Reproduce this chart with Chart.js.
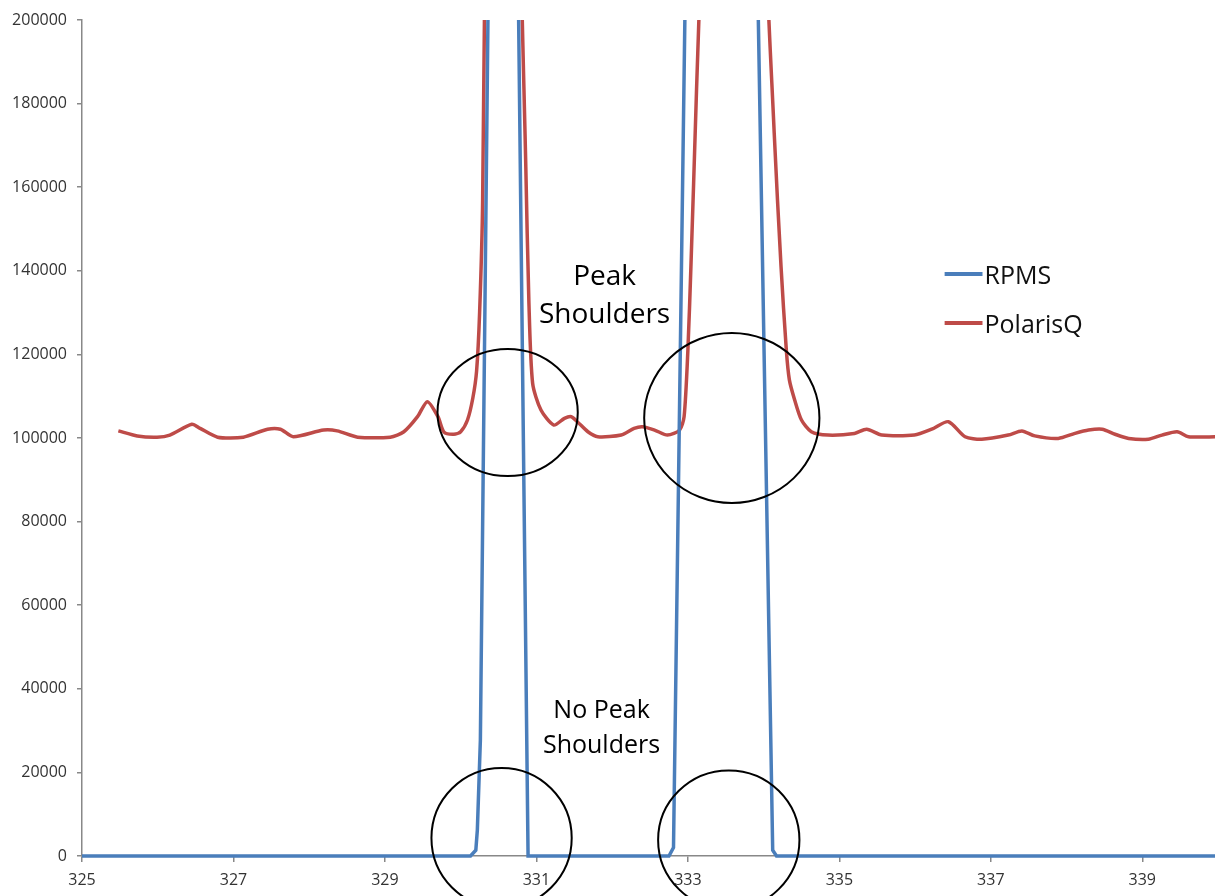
<!DOCTYPE html>
<html>
<head>
<meta charset="utf-8">
<script src="https://cdn.jsdelivr.net/npm/chart.js@4"></script>
<style>
  html, body { margin: 0; padding: 0; background: #fff; overflow: hidden; }
  #wrap { width: 1215px; height: 896px; }
</style>
</head>
<body>
<div id="wrap"><canvas id="chart" width="1215" height="896"></canvas></div>
<script>
// DATA (m/z vs counts; the peak tops run far off scale)
const rpmsMz = [325, 330.13, 330.20, 330.22, 330.26, 330.40, 330.55, 330.72, 330.89,
  332.75, 332.81, 333.00, 333.45, 333.88, 334.12, 334.17, 339.96];
const rpmsCounts = [0, 0, 1400, 6200, 27700, 268900, 3000000, 272700, 0,
  0, 2000, 252800, 3000000, 252600, 1400, 0, 0];

const polarisMz = [
  325.48, 325.73, 325.99, 326.16, 326.45, 326.56, 326.79, 327.13, 327.45, 327.62,
  327.79, 328.19, 328.37, 328.64, 329.07, 329.25, 329.43, 329.56, 329.70, 329.78,
  329.91, 330.00, 330.09, 330.16, 330.21, 330.25, 330.29, 330.35, 330.56, 330.78,
  330.86, 330.90, 330.95, 331.06, 331.23, 331.37, 331.46, 331.54, 331.68, 331.81,
  332.12, 332.29, 332.40, 332.56, 332.73, 332.89, 332.95, 333.00, 333.04, 333.11,
  333.18, 333.60, 334.02, 334.14, 334.23, 334.30, 334.34, 334.41, 334.50, 334.63,
  334.85, 335.20, 335.36, 335.56, 335.99, 336.22, 336.44, 336.66, 336.88, 337.23,
  337.41, 337.58, 337.89, 338.11, 338.29, 338.47, 338.64, 338.82, 339.08, 339.26,
  339.46, 339.61, 339.99];
const polarisCounts = [
  101700, 100500, 100200, 100700, 103300, 102300, 100200, 100200, 102100, 102100,
  100300, 101900, 101700, 100200, 100200, 101500, 105100, 108700, 105100, 101400,
  100900, 101500, 104300, 109500, 116000, 130000, 156900, 290000, 2500000, 235000,
  164900, 133000, 113100, 106700, 103100, 104700, 105100, 103900, 101500, 100300,
  100700, 102300, 102700, 101900, 100700, 101900, 105100, 121000, 141000, 180800,
  225600, 2500000, 227100, 172900, 141000, 121000, 113900, 109100, 104300, 101500,
  100700, 101100, 102100, 100700, 100700, 102100, 103900, 100300, 99700, 100700,
  101700, 100500, 99900, 101100, 101900, 102100, 100900, 99900, 99700, 100700,
  101500, 100300, 100300];

const xTickValues = [325, 327, 329, 331, 333, 335, 337, 339];

const seriesNames = ['RPMS', 'PolarisQ'];
const seriesColors = ['#4A7EBB', '#BE4B48'];

// annotations, in data units: [centre m/z, centre counts, radius m/z, radius counts]
const rings = [
  [330.62, 106100, 0.926, 15190],
  [333.58, 104780, 1.157, 20330],
  [330.54, 4300, 0.926, 16750],
  [333.54, 3830, 0.933, 16630]
];
const notes = [
  ['Peak', 331.90, 136600, 28],
  ['Shoulders', 331.90, 127500, 28],
  ['No Peak', 331.86, 33010, 25],
  ['Shoulders', 331.86, 24640, 25]
];

const toPoints = (xs, ys) => xs.map((x, i) => ({x: x, y: ys[i]}));

const FONT = "'Open Sans', 'DejaVu Sans', sans-serif";
Chart.defaults.font.family = FONT;

// circles, labels and the legend drawn on top of the plot
const overlay = {
  id: 'overlay',
  afterDraw(chart) {
    const ctx = chart.ctx;
    const sx = chart.scales.x, sy = chart.scales.y;
    ctx.save();
    ctx.strokeStyle = '#000';
    ctx.lineWidth = 2;
    rings.forEach(r => {
      const cx = sx.getPixelForValue(r[0]), cy = sy.getPixelForValue(r[1]);
      const rx = sx.getPixelForValue(r[0] + r[2]) - cx;
      const ry = cy - sy.getPixelForValue(r[1] + r[3]);
      ctx.beginPath();
      ctx.ellipse(cx, cy, rx, ry, 0, 0, Math.PI * 2);
      ctx.stroke();
    });
    ctx.fillStyle = '#000';
    ctx.textAlign = 'center';
    ctx.textBaseline = 'alphabetic';
    notes.forEach(n => {
      ctx.font = n[3] + 'px ' + FONT;
      ctx.fillText(n[0], sx.getPixelForValue(n[1]), sy.getPixelForValue(n[2]));
    });
    // legend
    const lx0 = sx.getPixelForValue(336.39), lx1 = sx.getPixelForValue(336.89);
    const legendY = [139230, 127510];
    ctx.font = '25px ' + FONT;
    ctx.textAlign = 'left';
    seriesNames.forEach((name, i) => {
      const y = sy.getPixelForValue(legendY[i]);
      ctx.strokeStyle = seriesColors[i];
      ctx.lineWidth = 4;
      ctx.beginPath();
      ctx.moveTo(lx0, y);
      ctx.lineTo(lx1, y);
      ctx.stroke();
      ctx.fillStyle = '#111';
      ctx.fillText(name, lx1 + 2, y + 9.5);
    });
    ctx.restore();
  }
};

const data = {
  datasets: [{
    label: seriesNames[0],
    data: toPoints(rpmsMz, rpmsCounts),
    borderColor: seriesColors[0],
    borderWidth: 3.5,
    pointRadius: 0,
    tension: 0,
    clip: {left: 2, top: 0, right: 0, bottom: 4}
  }, {
    label: seriesNames[1],
    data: toPoints(polarisMz, polarisCounts),
    borderColor: seriesColors[1],
    borderWidth: 3.5,
    pointRadius: 0,
    tension: 0.25,
    borderJoinStyle: 'round',
    clip: {left: 2, top: 0, right: 0, bottom: 4}
  }]
};

const config = {
  type: 'line',
  data: data,
  options: {
    responsive: false,
    animation: false,
    devicePixelRatio: 1,
    layout: { padding: {top: 20, left: 0, right: 0, bottom: 0} },
    plugins: {
      legend: { display: false },
      tooltip: { enabled: false }
    },
    scales: {
      x: {
        type: 'linear',
        min: 325,
        max: 339.96,
        afterFit(s) { s.height = 40; s.paddingLeft = 0; s.paddingRight = 0; },
        afterBuildTicks(s) { s.ticks = xTickValues.map(v => ({value: v})); },
        ticks: {
          maxRotation: 0,
          autoSkip: false,
          padding: 9,
          color: '#333',
          font: { size: 16 },
          callback: v => String(v)
        },
        grid: { drawOnChartArea: false, color: '#888', lineWidth: 1.5, tickLength: 6 },
        border: { color: '#888', width: 1.5 }
      },
      y: {
        type: 'linear',
        min: 0,
        max: 200000,
        afterFit(s) { s.width = 82; s.paddingTop = 0; s.paddingBottom = 0; },
        ticks: {
          stepSize: 20000,
          padding: 10,
          color: '#333',
          font: { size: 16 },
          callback: v => String(v)
        },
        grid: { drawOnChartArea: false, color: '#888', lineWidth: 1.5, tickLength: 5 },
        border: { color: '#888', width: 1.5 }
      }
    }
  },
  plugins: [overlay]
};

new Chart(document.getElementById('chart'), config);
</script>
</body>
</html>
